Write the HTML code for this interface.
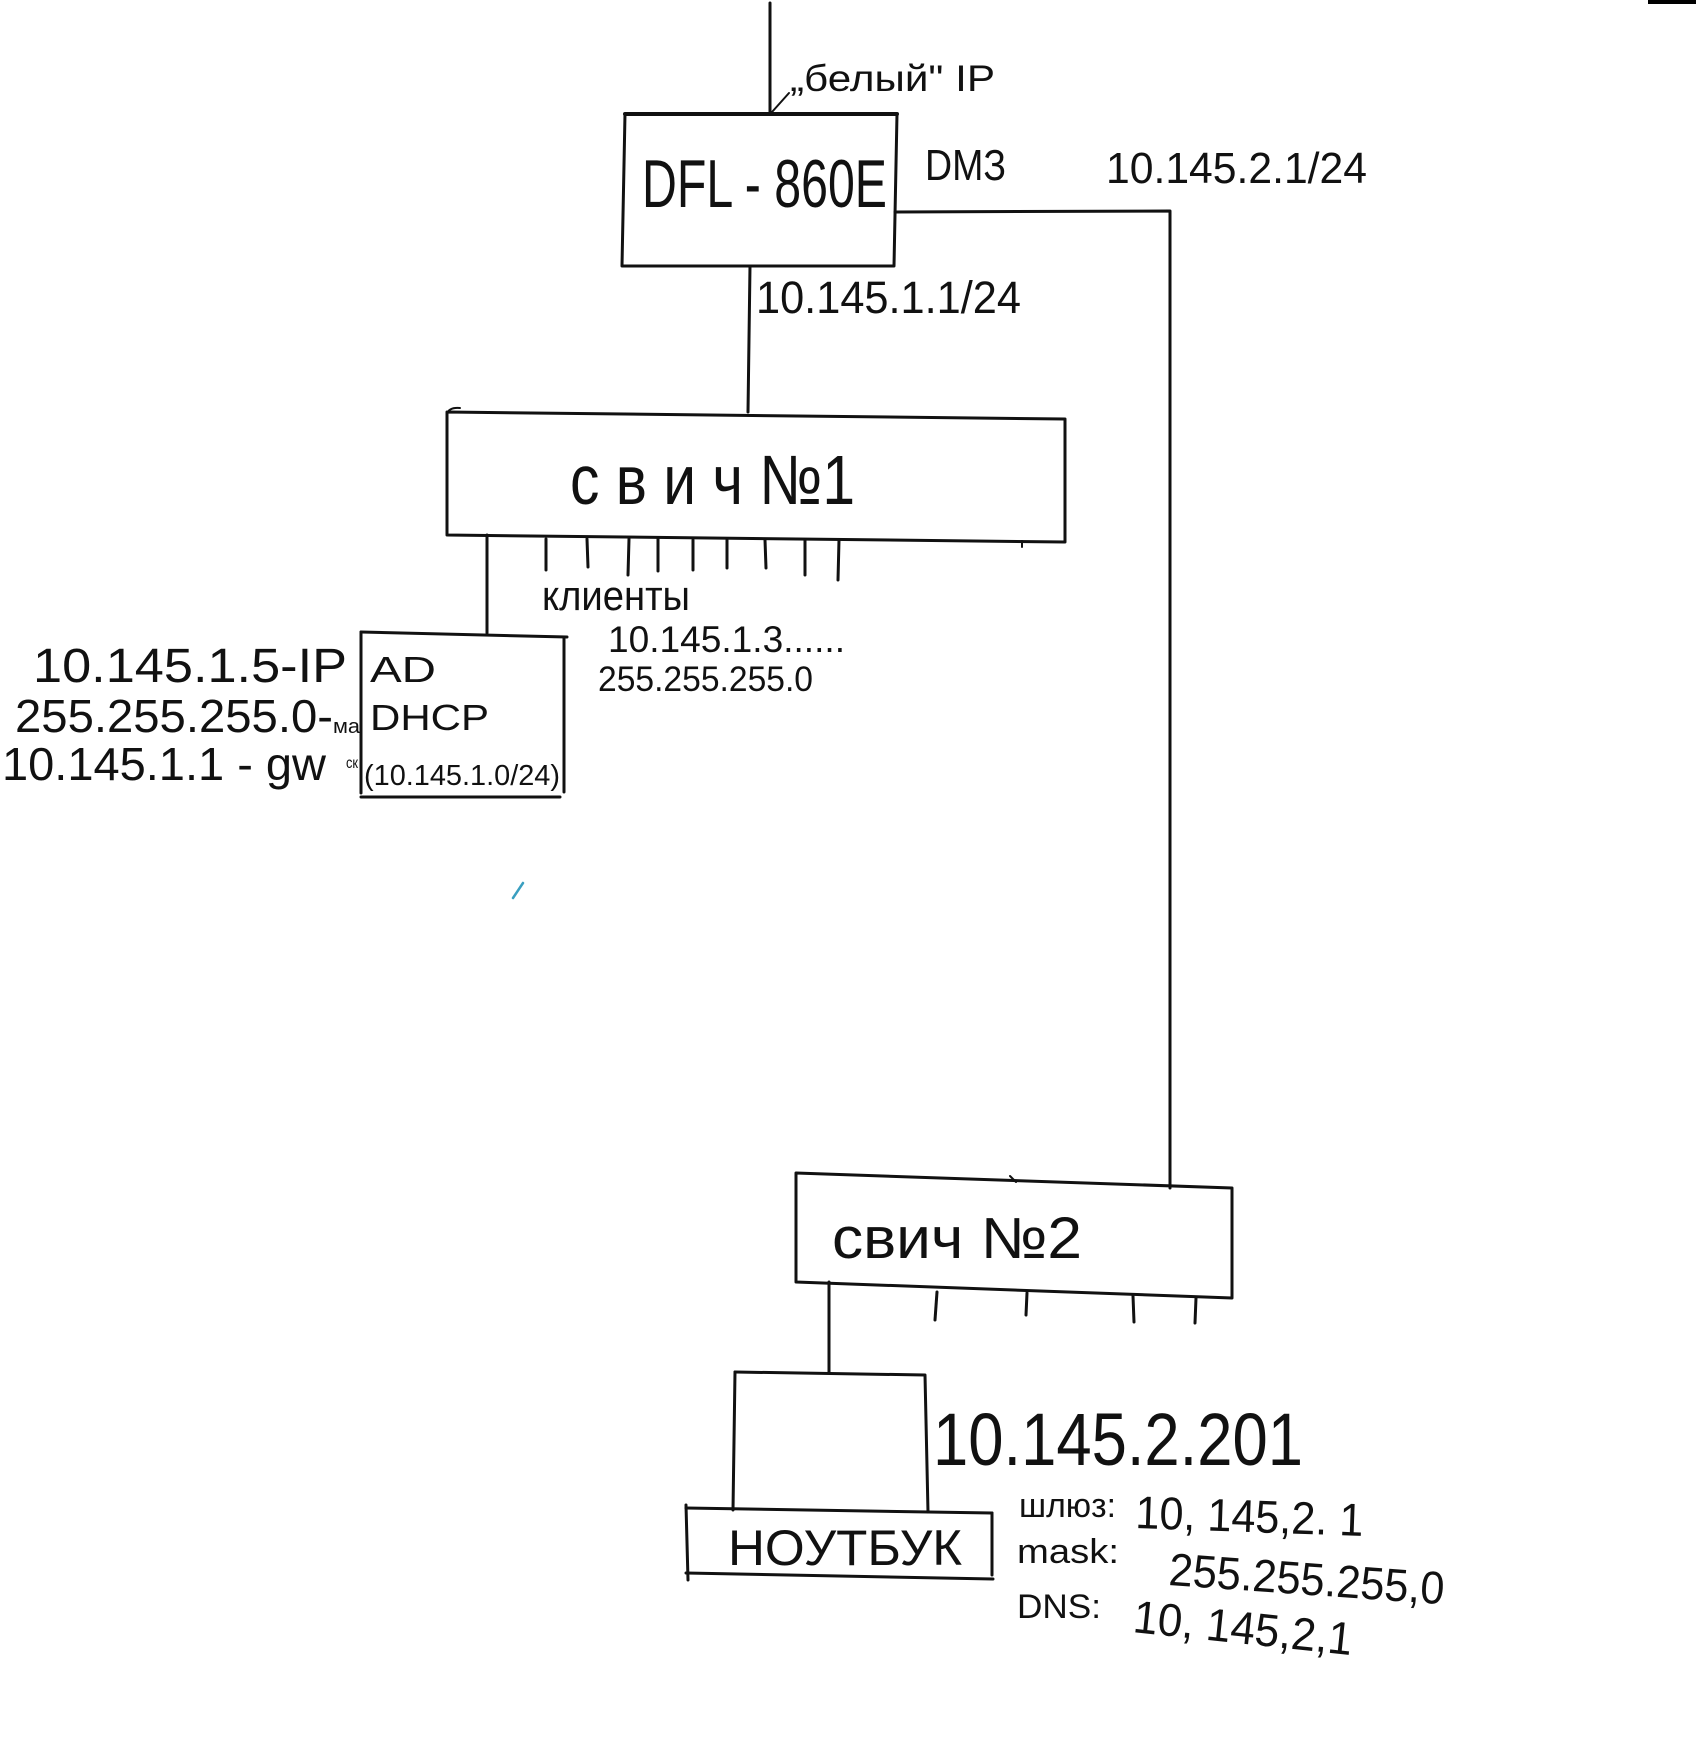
<!DOCTYPE html>
<html>
<head>
<meta charset="utf-8">
<style>
  html,body{margin:0;padding:0;background:#fff;}
  svg{display:block;}
  text{font-family:"Liberation Sans","DejaVu Sans",sans-serif;fill:#111;}
</style>
</head>
<body>
<svg width="1700" height="1750" viewBox="0 0 1700 1750" xmlns="http://www.w3.org/2000/svg">
  <rect x="0" y="0" width="1700" height="1750" fill="#fff"/>
  <!-- top-right black bar -->
  <rect x="1648" y="0" width="48" height="4" fill="#000"/>

  <g stroke="#111" stroke-width="3" fill="none" stroke-linecap="round" stroke-linejoin="round">
    <!-- uplink -->
    <line x1="770" y1="3" x2="770" y2="114"/>
    <line x1="772" y1="112" x2="789" y2="93" stroke-width="2"/>
    <!-- DFL box -->
    <polygon points="625,114 897,114 894,266 622,266"/>
    <line x1="625" y1="114" x2="897" y2="114" stroke-width="4"/>
    <!-- DMZ line -->
    <polyline points="895,212 1170,211 1170,1188"/>
    <!-- DFL to switch1 -->
    <line x1="750" y1="266" x2="748" y2="412"/>
    <!-- switch 1 -->
    <polygon points="447,412 1065,419 1065,542 447,535"/>
    <path d="M447,414 Q449,407 460,408" stroke-width="2"/>
    <!-- switch1 ports -->
    <line x1="546" y1="539" x2="546" y2="570"/>
    <line x1="587" y1="539" x2="588" y2="567"/>
    <line x1="629" y1="539" x2="628" y2="575"/>
    <line x1="658" y1="539" x2="658" y2="571"/>
    <line x1="693" y1="540" x2="693" y2="570"/>
    <line x1="727" y1="540" x2="727" y2="568"/>
    <line x1="765" y1="540" x2="766" y2="568"/>
    <line x1="805" y1="540" x2="805" y2="575"/>
    <line x1="839" y1="540" x2="838" y2="580"/>
    <line x1="1022" y1="541" x2="1022" y2="547" stroke-width="2"/>
    <!-- switch1 to AD -->
    <line x1="487" y1="535" x2="487" y2="633"/>
    <!-- AD box -->
    <polyline points="361,632 567,637"/>
    <line x1="361" y1="632" x2="361" y2="793"/>
    <line x1="564" y1="637" x2="564" y2="792"/>
    <line x1="361" y1="797" x2="560" y2="797"/>
    <!-- switch 2 -->
    <polygon points="796,1173 1232,1188 1232,1298 796,1282"/>
    <line x1="1010" y1="1176" x2="1016" y2="1182" stroke-width="2"/>
    <line x1="937" y1="1292" x2="935" y2="1320"/>
    <line x1="1027" y1="1293" x2="1026" y2="1315"/>
    <line x1="1133" y1="1296" x2="1134" y2="1322"/>
    <line x1="1196" y1="1298" x2="1195" y2="1323"/>
    <!-- switch2 to laptop -->
    <line x1="829" y1="1282" x2="829" y2="1373"/>
    <!-- laptop screen -->
    <polyline points="735,1372 925,1375 928,1512"/>
    <line x1="735" y1="1372" x2="733" y2="1510"/>
    <!-- keyboard -->
    <line x1="686" y1="1508" x2="992" y2="1513"/>
    <line x1="992" y1="1513" x2="992" y2="1575"/>
    <line x1="686" y1="1573" x2="993" y2="1579"/>
    <line x1="686" y1="1505" x2="688" y2="1580"/>
  </g>

  <!-- stray blue mark -->
  <line x1="513" y1="898" x2="523" y2="883" stroke="#3a9fc0" stroke-width="2.5" stroke-linecap="round"/>

  <!-- Labels -->
  <text x="790" y="91" font-size="37" textLength="205" lengthAdjust="spacingAndGlyphs">„белый" IP</text>
  <text x="642" y="207" font-size="68" textLength="245" lengthAdjust="spacingAndGlyphs">DFL - 860E</text>
  <text x="925" y="180" font-size="44" textLength="81" lengthAdjust="spacingAndGlyphs">DMЗ</text>
  <text x="1106" y="183" font-size="44" textLength="261" lengthAdjust="spacingAndGlyphs">10.145.2.1/24</text>
  <text x="756" y="313" font-size="45" textLength="265" lengthAdjust="spacingAndGlyphs">10.145.1.1/24</text>

  <text x="570" y="504" font-size="70" textLength="285" lengthAdjust="spacingAndGlyphs">с в и ч №1</text>
  <text x="542" y="610" font-size="42" textLength="148" lengthAdjust="spacingAndGlyphs">клиенты</text>
  <text x="608" y="652" font-size="37" textLength="237" lengthAdjust="spacingAndGlyphs">10.145.1.3......</text>
  <text x="598" y="691" font-size="35" textLength="215" lengthAdjust="spacingAndGlyphs">255.255.255.0</text>

  <text x="370" y="682" font-size="36" textLength="66" lengthAdjust="spacingAndGlyphs">AD</text>
  <text x="370" y="730" font-size="36" textLength="119" lengthAdjust="spacingAndGlyphs">DHCP</text>
  <text x="364" y="785" font-size="29" textLength="196" lengthAdjust="spacingAndGlyphs">(10.145.1.0/24)</text>

  <text x="33" y="682" font-size="48" textLength="314" lengthAdjust="spacingAndGlyphs">10.145.1.5-IP</text>
  <text x="15" y="732" font-size="46" textLength="318" lengthAdjust="spacingAndGlyphs">255.255.255.0-</text>
  <text x="333" y="733" font-size="20" textLength="27" lengthAdjust="spacingAndGlyphs">ма</text>
  <text x="346" y="768" font-size="16" textLength="12" lengthAdjust="spacingAndGlyphs">ск</text>
  <text x="2" y="780" font-size="46" textLength="324" lengthAdjust="spacingAndGlyphs">10.145.1.1 - gw</text>

  <text x="832" y="1258" font-size="58" textLength="250" lengthAdjust="spacingAndGlyphs">свич №2</text>

  <text x="728" y="1565" font-size="50" textLength="234" lengthAdjust="spacingAndGlyphs">НОУТБУК</text>
  <text x="933" y="1465" font-size="74" textLength="370" lengthAdjust="spacingAndGlyphs">10.145.2.201</text>

  <text x="1019" y="1517" font-size="34" textLength="97" lengthAdjust="spacingAndGlyphs">шлюз:</text>
  <text x="1135" y="1528" font-size="46" textLength="228" lengthAdjust="spacingAndGlyphs" transform="rotate(2 1135 1528)">10, 145,2. 1</text>

  <text x="1017" y="1563" font-size="34" textLength="102" lengthAdjust="spacingAndGlyphs">mask:</text>
  <text x="1168" y="1585" font-size="46" textLength="276" lengthAdjust="spacingAndGlyphs" transform="rotate(4 1168 1585)">255.255.255,0</text>

  <text x="1017" y="1618" font-size="34" textLength="84" lengthAdjust="spacingAndGlyphs">DNS:</text>
  <text x="1132" y="1632" font-size="46" textLength="220" lengthAdjust="spacingAndGlyphs" transform="rotate(6 1132 1632)">10, 145,2,1</text>
</svg>
</body>
</html>
